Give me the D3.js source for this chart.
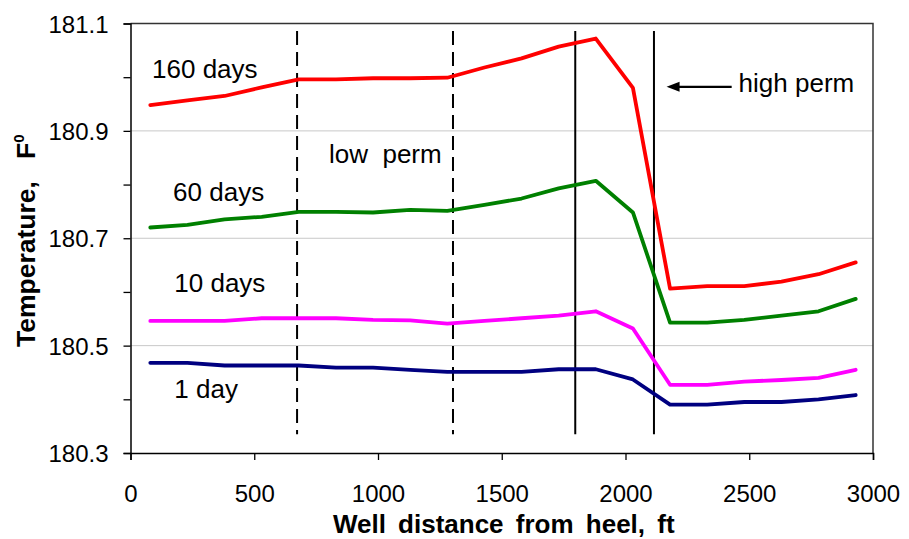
<!DOCTYPE html>
<html>
<head>
<meta charset="utf-8">
<script src="https://cdn.jsdelivr.net/npm/d3@7"></script>
<style>
  body { margin: 0; background: #fff; }
  text { font-family: Arial, "Liberation Sans", sans-serif; }
</style>
</head>
<body>
<svg width="909" height="539"></svg>
<script>
// distance along the well, ft
var distance = [80, 230, 380, 530, 680, 830, 980, 1130, 1280, 1430, 1580, 1730, 1880, 2030, 2180, 2330, 2480, 2630, 2780, 2930];

// temperature, F
var days160 = [180.948, 180.957, 180.965, 180.981, 180.996, 180.996, 180.998, 180.998, 180.999, 181.018, 181.035, 181.057, 181.072, 180.980, 180.606, 180.611, 180.611, 180.619, 180.633, 180.655];
var days60 = [180.720, 180.725, 180.735, 180.740, 180.749, 180.749, 180.748, 180.753, 180.751, 180.762, 180.774, 180.793, 180.807, 180.748, 180.543, 180.543, 180.548, 180.556, 180.564, 180.587];
var days10 = [180.546, 180.546, 180.546, 180.551, 180.551, 180.551, 180.548, 180.547, 180.541, 180.546, 180.551, 180.556, 180.564, 180.532, 180.427, 180.427, 180.433, 180.436, 180.440, 180.455];
var day1 = [180.468, 180.468, 180.463, 180.463, 180.463, 180.459, 180.459, 180.455, 180.451, 180.451, 180.451, 180.456, 180.456, 180.437, 180.390, 180.390, 180.395, 180.395, 180.400, 180.408];

var seriesNames = ["160 days", "60 days", "10 days", "1 day"];
var seriesColors = ["#ff0000", "#008000", "#ff00ff", "#000080"];

var xTicks = [0, 500, 1000, 1500, 2000, 2500, 3000];
var yTicks = [180.3, 180.4, 180.5, 180.6, 180.7, 180.8, 180.9, 181.0, 181.1];
var yLabels = [180.3, 180.5, 180.7, 180.9, 181.1];

// zone boundaries, ft
var dashedAt = [673, 1303];
var solidAt = [1797, 2115];

var width = 909;
var height = 539;
var margin = ({top: 23.5, right: 36, bottom: 86, left: 130.5});

var x = d3.scaleLinear()
    .domain([0, 3000])
    .range([margin.left, width - margin.right]);
var y = d3.scaleLinear()
    .domain([180.3, 181.1])
    .range([height - margin.bottom, margin.top]);

var series = [days160, days60, days10, day1].map((vals, i) => ({
  name: seriesNames[i],
  color: seriesColors[i],
  values: vals.map((v, j) => ({x: distance[j], y: v}))
}));

var line = d3.line()
    .x(d => x(d.x))
    .y(d => y(d.y));

(function chart() {
  var svg = d3.select("svg");

  // grid
  svg.append("g")
    .selectAll("line")
    .data(yLabels.filter(v => v > 180.3 && v < 181.1))
    .join("line")
      .attr("x1", x(0)).attr("x2", x(3000))
      .attr("y1", d => y(d)).attr("y2", d => y(d))
      .attr("stroke", "#c8c8c8")
      .attr("stroke-width", 1);

  // frame top / right
  svg.append("path")
      .attr("d", `M${x(0)},${y(181.1)}H${x(3000)}V${y(180.3)}`)
      .attr("fill", "none")
      .attr("stroke", "#333")
      .attr("stroke-width", 1.5);

  // axes
  svg.append("g")
      .attr("transform", `translate(0,${y(180.3)})`)
      .call(d3.axisBottom(x).tickValues(xTicks).tickSize(7).tickFormat(d3.format("d")))
      .call(g => g.select(".domain").attr("stroke", "#000").attr("stroke-width", 1.5))
      .call(g => g.selectAll(".tick line").attr("stroke-width", 1.3))
      .call(g => g.selectAll(".tick text")
          .attr("y", 49).attr("dy", null)
          .attr("font-size", 24).attr("fill", "#000")
          .attr("font-family", "Arial, 'Liberation Sans', sans-serif"));

  svg.append("g")
      .attr("transform", `translate(${x(0)},0)`)
      .call(d3.axisLeft(y).tickValues(yTicks).tickSize(7)
          .tickFormat(d => yLabels.some(v => Math.abs(v - d) < 1e-6) ? d3.format(".1f")(d) : ""))
      .call(g => g.select(".domain").attr("stroke", "#000").attr("stroke-width", 1.5))
      .call(g => g.selectAll(".tick line").attr("stroke-width", 1.3))
      .call(g => g.selectAll(".tick text")
          .attr("x", -22).attr("dy", "0.36em")
          .attr("font-size", 24).attr("fill", "#000")
          .attr("font-family", "Arial, 'Liberation Sans', sans-serif"));

  // zone lines
  svg.append("g")
    .selectAll("line")
    .data(dashedAt)
    .join("line")
      .attr("x1", d => x(d)).attr("x2", d => x(d))
      .attr("y1", y(181.086)).attr("y2", y(180.335))
      .attr("stroke", "#000")
      .attr("stroke-width", 2)
      .attr("stroke-dasharray", "14,7");

  svg.append("g")
    .selectAll("line")
    .data(solidAt)
    .join("line")
      .attr("x1", d => x(d)).attr("x2", d => x(d))
      .attr("y1", y(181.086)).attr("y2", y(180.335))
      .attr("stroke", "#000")
      .attr("stroke-width", 2);

  // series
  svg.append("g")
    .selectAll("path")
    .data(series)
    .join("path")
      .attr("fill", "none")
      .attr("stroke", d => d.color)
      .attr("stroke-width", 3.8)
      .attr("stroke-linejoin", "round")
      .attr("stroke-linecap", "round")
      .attr("d", d => line(d.values));

  // labels
  var labelPos = [[87, 180.998], [172, 180.770], [177, 180.599], [177, 180.402]];
  svg.append("g")
    .selectAll("text")
    .data(series)
    .join("text")
      .attr("x", (d, i) => x(labelPos[i][0]))
      .attr("y", (d, i) => y(labelPos[i][1]))
      .attr("font-size", 26)
      .attr("fill", "#000")
      .text(d => d.name);

  svg.append("text")
      .attr("x", x(802))
      .attr("y", y(180.840))
      .attr("font-size", 26)
      .attr("xml:space", "preserve")
      .style("white-space", "pre")
      .text("low  perm");

  // high perm arrow
  var ay = y(180.982);
  svg.append("line")
      .attr("x1", x(2429)).attr("x2", x(2166) + 10)
      .attr("y1", ay).attr("y2", ay)
      .attr("stroke", "#000").attr("stroke-width", 2.2);
  svg.append("path")
      .attr("d", `M${x(2166)},${ay}l13,-5v10z`)
      .attr("fill", "#000");
  svg.append("text")
      .attr("x", x(2457))
      .attr("y", y(180.973))
      .attr("font-size", 26)
      .text("high perm");

  // axis titles
  svg.append("text")
      .attr("x", (x(0) + x(3000)) / 2 + 2)
      .attr("y", 532.5)
      .attr("text-anchor", "middle")
      .attr("font-size", 26)
      .attr("font-weight", "bold")
      .attr("word-spacing", 5)
      .text("Well distance from heel, ft");

  var yt = svg.append("text")
      .attr("transform", "translate(35,347) rotate(-90)")
      .attr("font-size", 26.5)
      .attr("font-weight", "bold")
      .attr("xml:space", "preserve")
      .style("white-space", "pre");
  yt.append("tspan").text("Temperature,   ");
  yt.append("tspan").text("F");
  yt.append("tspan").attr("font-size", 15).attr("dy", -11).text("0");

  return svg.node();
})();
</script>
</body>
</html>
